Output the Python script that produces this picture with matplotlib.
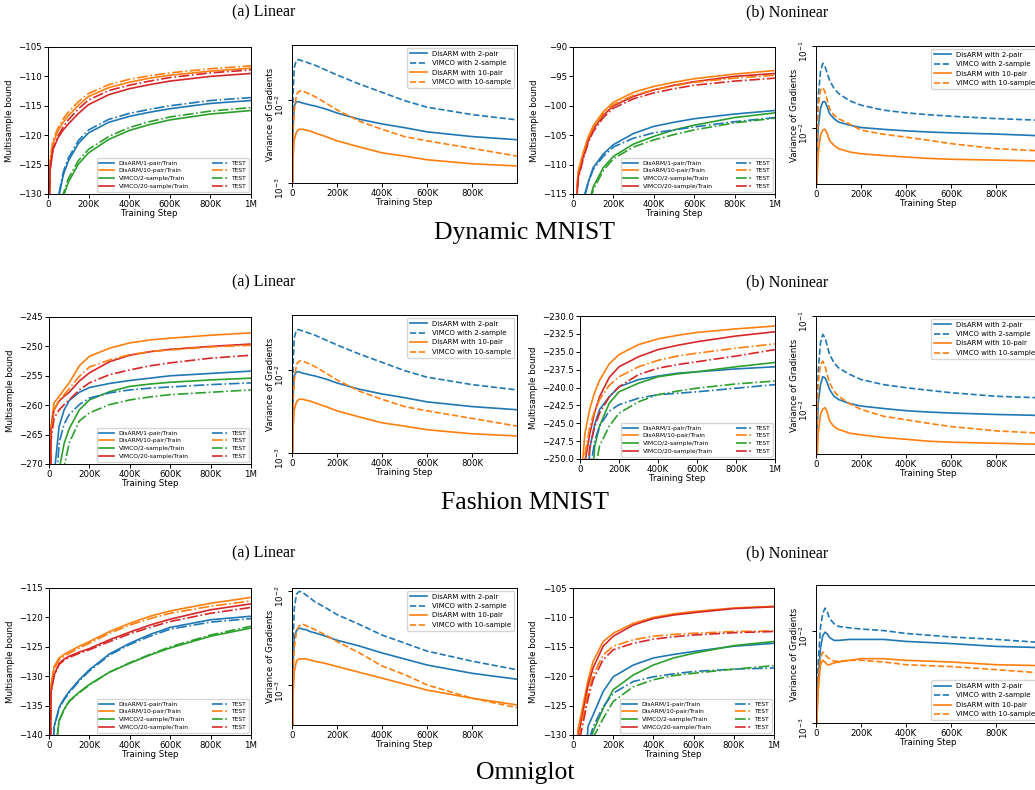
import numpy as np
import matplotlib
matplotlib.use('Agg')
import matplotlib.pyplot as plt
from matplotlib.ticker import NullLocator

W, H = 1035, 790

STEPS_BOUND = [0, 10, 25, 50, 75, 100, 150, 200, 300, 400, 500, 600, 800, 1000]
STEPS_VAR = [0, 5, 10, 20, 30, 40, 50, 60, 80, 100, 150, 200, 300, 400, 500, 600, 800, 1000]

BOUND_LABELS = ['DisARM/1-pair/Train', 'DisARM/10-pair/Train',
                'VIMCO/2-sample/Train', 'VIMCO/20-sample/Train']
VAR_LABELS = ['DisARM with 2-pair', 'VIMCO with 2-sample',
              'DisARM with 10-pair', 'VIMCO with 10-sample']

# ---- Dynamic MNIST ----
# order: DisARM 1-pair, DisARM 10-pair, VIMCO 2-sample, VIMCO 20-sample
DM_LIN_TRAIN = [
    [-175, -160, -145, -131.0, -126.8, -124.4, -121.4, -119.6, -117.8, -116.8, -116.1, -115.5, -114.6, -114.1],
    [-150, -124.5, -121.3, -119.2, -117.8, -116.7, -114.9, -113.4, -111.9, -111.0, -110.3, -109.8, -109.1, -108.6],
    [-200, -185, -165, -145, -130.5, -128.0, -124.9, -123.0, -120.7, -119.2, -118.2, -117.4, -116.4, -115.8],
    [-150, -126.0, -122.4, -120.4, -119.1, -118.1, -116.3, -114.8, -113.1, -112.1, -111.4, -110.8, -110.0, -109.5],
]
DM_LIN_TEST = [
    [-175, -160, -145, -130.6, -126.3, -123.9, -120.9, -119.1, -117.3, -116.3, -115.6, -115.0, -114.1, -113.6],
    [-150, -124.0, -120.8, -118.7, -117.2, -116.1, -114.3, -112.9, -111.4, -110.5, -109.9, -109.4, -108.7, -108.2],
    [-200, -185, -165, -145, -130.0, -127.4, -124.3, -122.4, -120.2, -118.7, -117.7, -116.9, -115.9, -115.3],
    [-150, -125.8, -122.2, -120.1, -118.6, -117.4, -115.5, -114.0, -112.4, -111.5, -110.8, -110.2, -109.4, -108.9],
]
DM_NONLIN_TRAIN = [
    [-160, -150, -135, -116.0, -113.0, -110.5, -108.2, -106.6, -104.7, -103.5, -102.8, -102.2, -101.4, -100.8],
    [-150, -120.0, -111.2, -108.0, -105.3, -103.4, -101.0, -99.4, -97.7, -96.7, -96.0, -95.4, -94.6, -94.0],
    [-200, -180, -160, -135, -117.0, -113.8, -110.5, -108.6, -106.5, -105.2, -104.1, -103.3, -102.0, -101.2],
    [-150, -121.0, -112.2, -108.8, -106.0, -104.0, -101.6, -100.0, -98.4, -97.3, -96.5, -95.9, -95.0, -94.5],
]
DM_NONLIN_TEST = [
    [-160, -150, -135, -116.5, -113.2, -110.8, -108.6, -107.0, -105.5, -104.6, -104.1, -103.6, -102.7, -102.0],
    [-150, -120.5, -111.6, -108.3, -105.6, -103.7, -101.3, -99.8, -98.2, -97.3, -96.6, -96.0, -95.3, -94.8],
    [-200, -180, -160, -135, -117.5, -114.3, -111.0, -109.0, -107.0, -105.8, -104.9, -104.1, -102.9, -102.1],
    [-150, -121.5, -112.6, -109.1, -106.3, -104.4, -102.0, -100.4, -98.8, -97.8, -97.1, -96.5, -95.8, -95.3],
]
# order: DisARM 2-pair, VIMCO 2-sample, DisARM 10-pair, VIMCO 10-sample
DM_LIN_VAR = [
    [3e-4, 0.005, 0.0085, 0.0094, 0.0094, 0.0092, 0.0090, 0.0089, 0.0086, 0.0084, 0.0077, 0.0069, 0.0058, 0.0051, 0.0046, 0.0041, 0.0036, 0.0033],
    [3e-4, 0.012, 0.024, 0.030, 0.0300, 0.0294, 0.0288, 0.0282, 0.0270, 0.0259, 0.0226, 0.0197, 0.0153, 0.0122, 0.0097, 0.0081, 0.0066, 0.0057],
    [3e-4, 0.002, 0.0033, 0.0041, 0.0044, 0.0044, 0.0044, 0.0043, 0.0042, 0.0040, 0.0036, 0.0032, 0.0027, 0.0023, 0.0021, 0.0019, 0.0017, 0.0016],
    [3e-4, 0.004, 0.0075, 0.0115, 0.0125, 0.0127, 0.0125, 0.0122, 0.0116, 0.0109, 0.0091, 0.0075, 0.0055, 0.0044, 0.0036, 0.0032, 0.0026, 0.0021],
]
DM_NONLIN_VAR = [
    [3e-4, 0.005, 0.0104, 0.0174, 0.0210, 0.0210, 0.0182, 0.0151, 0.0131, 0.0119, 0.0109, 0.0102, 0.0097, 0.0093, 0.0090, 0.0088, 0.0085, 0.0081],
    [3e-4, 0.008, 0.0241, 0.0487, 0.0615, 0.0560, 0.0464, 0.0385, 0.0305, 0.0265, 0.0215, 0.0191, 0.0166, 0.0154, 0.0146, 0.0140, 0.0131, 0.0125],
    [3e-4, 0.0025, 0.0049, 0.0082, 0.0095, 0.0097, 0.0086, 0.0071, 0.0062, 0.00565, 0.00514, 0.0049, 0.00466, 0.00447, 0.0043, 0.0042, 0.0041, 0.0040],
    [3e-4, 0.007, 0.0182, 0.0290, 0.0313, 0.0277, 0.0219, 0.0174, 0.0144, 0.0131, 0.0112, 0.0095, 0.00845, 0.0078, 0.00714, 0.0065, 0.00565, 0.0053],
]

# ---- Fashion MNIST ----
FM_LIN_TRAIN = [
    [-320, -300, -272, -263.6, -260.8, -259.2, -257.8, -257.0, -256.3, -255.8, -255.4, -255.0, -254.6, -254.2],
    [-300, -263.6, -259.6, -258.5, -257.3, -256.2, -253.3, -251.7, -250.3, -249.4, -248.9, -248.6, -248.1, -247.7],
    [-330, -310, -290, -271, -266.5, -264.0, -260.8, -259.1, -257.7, -256.8, -256.4, -256.1, -255.7, -255.4],
    [-300, -264.0, -260.8, -259.3, -258.5, -257.8, -255.9, -254.5, -252.6, -251.5, -250.9, -250.5, -250.0, -249.6],
]
FM_LIN_TEST = [
    [-320, -300, -280, -266.4, -263.2, -261.6, -259.9, -258.8, -257.9, -257.4, -257.1, -256.9, -256.5, -256.2],
    [-300, -264.5, -260.8, -259.1, -258.2, -257.2, -255.1, -253.5, -252.3, -251.4, -250.9, -250.6, -250.1, -249.8],
    [-330, -310, -290, -280, -270.5, -266.4, -262.7, -261.3, -259.9, -259.1, -258.6, -258.2, -257.8, -257.4],
    [-300, -266.0, -262.2, -260.8, -259.9, -259.1, -257.4, -256.2, -254.8, -254.0, -253.3, -252.8, -252.0, -251.5],
]
FM_NONLIN_TRAIN = [
    [-300, -280, -265, -248.5, -245.2, -243.1, -241.3, -239.9, -238.9, -238.4, -238.0, -237.8, -237.4, -237.1],
    [-300, -251.5, -246.5, -243.0, -240.7, -239.0, -236.7, -235.4, -234.0, -233.2, -232.7, -232.3, -231.8, -231.4],
    [-300, -290, -275, -260, -248.3, -245.4, -242.2, -240.6, -239.4, -238.5, -238.1, -237.8, -237.1, -236.5],
    [-300, -265, -250.5, -246.5, -243.5, -241.3, -238.6, -237.1, -235.7, -234.7, -234.1, -233.6, -232.8, -232.2],
]
FM_NONLIN_TEST = [
    [-300, -280, -265, -252.0, -247.5, -245.4, -243.3, -242.4, -241.5, -241.0, -240.8, -240.6, -240.1, -239.6],
    [-300, -262, -249.5, -245.5, -243.3, -241.7, -239.7, -238.5, -237.1, -236.2, -235.6, -235.2, -234.5, -233.9],
    [-300, -290, -280, -270, -252.0, -248.2, -245.4, -243.6, -242.0, -241.0, -240.5, -240.1, -239.5, -239.1],
    [-300, -270, -255, -248.5, -245.5, -243.6, -241.3, -239.9, -238.2, -237.3, -236.8, -236.4, -235.6, -234.7],
]
FM_LIN_VAR = DM_LIN_VAR
FM_NONLIN_VAR = [
    [3e-4, 0.005, 0.0105, 0.0169, 0.0207, 0.0202, 0.0177, 0.0149, 0.0125, 0.0115, 0.01035, 0.0097, 0.0091, 0.0086, 0.0083, 0.0081, 0.0078, 0.0076],
    [3e-4, 0.009, 0.025, 0.050, 0.062, 0.057, 0.046, 0.037, 0.0298, 0.0261, 0.022, 0.0193, 0.0169, 0.0156, 0.0146, 0.0137, 0.0125, 0.0120],
    [3e-4, 0.0025, 0.0048, 0.0078, 0.0090, 0.0093, 0.0083, 0.0066, 0.0057, 0.0053, 0.0048, 0.0046, 0.0043, 0.0041, 0.0039, 0.0038, 0.0037, 0.0036],
    [3e-4, 0.007, 0.0177, 0.0285, 0.0310, 0.0273, 0.0220, 0.0177, 0.0143, 0.0125, 0.0103, 0.0089, 0.00745, 0.0068, 0.0062, 0.0057, 0.0051, 0.0048],
]

# ---- Omniglot ----
OM_LIN_TRAIN = [
    [-170, -150, -138.6, -135.3, -133.8, -132.6, -130.6, -128.9, -126.2, -124.4, -122.9, -121.7, -120.4, -119.8],
    [-170, -131.5, -128.4, -126.9, -126.3, -125.8, -124.9, -124.1, -122.4, -121.0, -119.8, -118.9, -117.6, -116.6],
    [-180, -165, -145, -137.5, -135.6, -134.2, -132.7, -131.4, -129.3, -127.8, -126.4, -125.2, -123.2, -121.8],
    [-170, -132.6, -129.8, -127.8, -127.1, -126.6, -125.9, -125.3, -123.8, -122.5, -121.3, -120.3, -118.7, -117.7],
]
OM_LIN_TEST = [
    [-170, -150, -138.8, -135.5, -134.0, -132.8, -130.8, -129.1, -126.4, -124.6, -123.2, -122.0, -120.8, -120.2],
    [-170, -131.8, -128.7, -127.2, -126.6, -126.1, -125.2, -124.4, -122.7, -121.3, -120.2, -119.3, -118.1, -117.2],
    [-180, -165, -145, -137.6, -135.7, -134.3, -132.8, -131.5, -129.3, -127.7, -126.3, -125.0, -123.0, -121.5],
    [-170, -132.8, -130.0, -128.0, -127.3, -126.8, -126.1, -125.5, -124.1, -122.8, -121.7, -120.7, -119.3, -118.3],
]
OM_NONLIN_TRAIN = [
    [-200, -180, -160, -140, -128.5, -126.6, -122.6, -120.1, -118.1, -116.9, -116.3, -115.8, -114.9, -114.4],
    [-200, -150, -129.0, -124.9, -120.6, -117.5, -114.1, -112.7, -111.0, -110.0, -109.4, -109.0, -108.4, -108.1],
    [-200, -180, -160, -145, -133.0, -129.4, -125.5, -122.3, -119.8, -118.1, -116.9, -116.1, -114.8, -114.1],
    [-200, -150, -130.5, -126.0, -121.6, -118.6, -114.9, -113.2, -111.3, -110.2, -109.6, -109.2, -108.5, -108.2],
]
OM_NONLIN_TEST = [
    [-200, -180, -160, -145, -131.5, -128.6, -125.2, -122.9, -120.9, -120.1, -119.6, -119.2, -118.8, -118.6],
    [-200, -150, -131.0, -127.0, -122.9, -119.8, -116.4, -114.9, -113.8, -113.2, -112.9, -112.7, -112.4, -112.3],
    [-200, -180, -160, -150, -138.0, -130.5, -127.2, -124.3, -121.8, -120.6, -119.9, -119.5, -118.8, -118.2],
    [-200, -150, -132.0, -128.0, -123.8, -120.6, -117.2, -115.5, -114.4, -113.7, -113.3, -113.0, -112.6, -112.4],
]
OM_LIN_VAR = [
    [1e-4, 0.0018, 0.0032, 0.0038, 0.0040, 0.0040, 0.0039, 0.0039, 0.0037, 0.0036, 0.0033, 0.0030, 0.0026, 0.0022, 0.0019, 0.00164, 0.00134, 0.00116],
    [1e-4, 0.003, 0.0065, 0.0092, 0.0098, 0.0098, 0.0095, 0.0091, 0.0084, 0.0077, 0.0066, 0.0056, 0.0044, 0.0034, 0.0028, 0.0023, 0.0018, 0.00146],
    [1e-4, 0.0008, 0.0014, 0.0018, 0.0019, 0.0019, 0.0019, 0.0019, 0.00185, 0.0018, 0.0017, 0.00158, 0.00137, 0.00119, 0.00103, 0.00089, 0.00073, 0.00062],
    [1e-4, 0.0012, 0.0025, 0.0037, 0.0042, 0.0044, 0.0044, 0.0043, 0.0041, 0.0039, 0.0034, 0.0029, 0.0022, 0.0016, 0.0013, 0.00101, 0.00073, 0.00058],
]
OM_NONLIN_VAR = [
    [3e-4, 0.0015, 0.0030, 0.0065, 0.0089, 0.0097, 0.0093, 0.0085, 0.0079, 0.0079, 0.0081, 0.0081, 0.0081, 0.0077, 0.0075, 0.0073, 0.0068, 0.0066],
    [3e-4, 0.0020, 0.0046, 0.0110, 0.0155, 0.0177, 0.0162, 0.0137, 0.0120, 0.0112, 0.0108, 0.0105, 0.0101, 0.0094, 0.0090, 0.0086, 0.0081, 0.0075],
    [3e-4, 0.0012, 0.0023, 0.0043, 0.0048, 0.0046, 0.0043, 0.0043, 0.0045, 0.0046, 0.0048, 0.0050, 0.0050, 0.0048, 0.0047, 0.0046, 0.0043, 0.0042],
    [3e-4, 0.0015, 0.0030, 0.0051, 0.0059, 0.0056, 0.0052, 0.0050, 0.0047, 0.0047, 0.0048, 0.0048, 0.0046, 0.0043, 0.0042, 0.0041, 0.0038, 0.0035],
]

COLORS = ['#1f77b4', '#ff7f0e', '#2ca02c', '#d62728']
SERIF = ['Liberation Serif', 'DejaVu Serif']
TICK_FS = 6.2
LABEL_FS = 6.2


def rect(x0, y0, x1, y1):
    """Pixel box -> figure fraction [left, bottom, width, height]."""
    return [x0 / W, 1 - y1 / H, (x1 - x0) / W, (y1 - y0) / H]


def style_axes(ax, ylabel, ylabel_px):
    ax.tick_params(labelsize=TICK_FS, length=3, width=0.7, pad=1.5)
    for s in ax.spines.values():
        s.set_linewidth(0.7)
    ax.set_xlabel('Training Step', fontsize=LABEL_FS, labelpad=0)
    ax.set_ylabel(ylabel, fontsize=LABEL_FS)
    # place the y label a fixed number of pixels left of the axis
    width_px = ax.get_position().width * W
    ax.yaxis.set_label_coords(-ylabel_px / width_px, 0.5)


def bound_panel(ax, train, test, ylim, yticks, ylabel_px):
    x = np.array(STEPS_BOUND) * 1000
    handles = []
    for i in range(4):
        h, = ax.plot(x, train[i], color=COLORS[i], lw=1.2, label=BOUND_LABELS[i])
        handles.append(h)
    for i in range(4):
        h, = ax.plot(x, test[i], color=COLORS[i], lw=1.2, ls='-.', label='TEST')
        handles.append(h)
    ax.set_xlim(0, 1e6)
    ax.set_ylim(*ylim)
    ax.set_yticks(yticks)
    ax.set_xticks([0, 2e5, 4e5, 6e5, 8e5, 1e6])
    ax.set_xticklabels(['0', '200K', '400K', '600K', '800K', '1M'])
    style_axes(ax, 'Multisample bound', ylabel_px)
    ax.legend(handles=handles, ncol=2, loc='lower right', fontsize=4.3,
              columnspacing=4.0, handlelength=2.4, borderaxespad=0.4,
              labelspacing=0.45)


def var_panel(ax, curves, ylim, legend_loc):
    x = np.array(STEPS_VAR) * 1000
    styles = [(COLORS[0], '-'), (COLORS[0], '--'), (COLORS[1], '-'), (COLORS[1], '--')]
    for vals, (c, ls), lab in zip(curves, styles, VAR_LABELS):
        ax.plot(x, vals, color=c, ls=ls, lw=1.2, label=lab)
    ax.set_yscale('log')
    ax.set_xlim(0, 1e6)
    ax.set_ylim(*ylim)
    ax.yaxis.set_minor_locator(NullLocator())
    ax.set_xticks([0, 2e5, 4e5, 6e5, 8e5])
    ax.set_xticklabels(['0', '200K', '400K', '600K', '800K'])
    style_axes(ax, 'Variance of Gradients', 17)
    ax.tick_params(axis='y', labelrotation=90)
    ax.legend(loc=legend_loc, fontsize=5.0, handlelength=2.4, borderaxespad=0.4)


fig = plt.figure(figsize=(W / 100, H / 100), dpi=100)

rows = [
    dict(name='Dynamic MNIST', ty=12, ny=233,
         lin=(DM_LIN_TRAIN, DM_LIN_TEST, (-130, -105), np.arange(-130, -104, 5), 34),
         nonlin=(DM_NONLIN_TRAIN, DM_NONLIN_TEST, (-115, -90), np.arange(-115, -89, 5), 34),
         linvar=(DM_LIN_VAR, (1e-3, 0.045), 'upper right'),
         nonlinvar=(DM_NONLIN_VAR, (0.0021, 0.1), 'upper right'),
         boxes=[(48, 47, 251, 194), (292, 45, 517, 183), (573, 47, 775, 194), (816, 46, 1041, 184)]),
    dict(name='Fashion MNIST', ty=282, ny=503,
         lin=(FM_LIN_TRAIN, FM_LIN_TEST, (-270, -245), np.arange(-270, -244, 5), 34),
         nonlin=(FM_NONLIN_TRAIN, FM_NONLIN_TEST, (-250, -230), np.arange(-250, -229, 2.5), 42),
         linvar=(FM_LIN_VAR, (1e-3, 0.045), 'upper right'),
         nonlinvar=(FM_NONLIN_VAR, (0.0028, 0.1), 'upper right'),
         boxes=[(49, 317, 251, 464), (292, 315, 517, 453), (580, 316, 775, 459), (816, 316, 1041, 454)]),
    dict(name='Omniglot', ty=553, ny=773,
         lin=(OM_LIN_TRAIN, OM_LIN_TEST, (-140, -115), np.arange(-140, -114, 5), 34),
         nonlin=(OM_NONLIN_TRAIN, OM_NONLIN_TEST, (-130, -105), np.arange(-130, -104, 5), 35),
         linvar=(OM_LIN_VAR, (0.00038, 0.0107), 'upper right'),
         nonlinvar=(OM_NONLIN_VAR, (1e-3, 0.0316), 'lower right'),
         boxes=[(49, 588, 251, 735), (292, 588, 517, 725), (573, 588, 774, 735), (816, 585, 1041, 723)]),
]

for row in rows:
    b = row['boxes']
    ax = fig.add_axes(rect(*b[0]))
    bound_panel(ax, *row['lin'])
    ax = fig.add_axes(rect(*b[1]))
    var_panel(ax, *row['linvar'])
    ax = fig.add_axes(rect(*b[2]))
    bound_panel(ax, *row['nonlin'])
    ax = fig.add_axes(rect(*b[3]))
    var_panel(ax, *row['nonlinvar'])

    fig.text(264 / W, 1 - row['ty'] / H, '(a) Linear', ha='center', va='center',
             family=SERIF, fontsize=11.5)
    fig.text(787 / W, 1 - row['ty'] / H, '(b) Noninear', ha='center', va='center',
             family=SERIF, fontsize=11.5)
    fig.text(525 / W, 1 - row['ny'] / H, row['name'], ha='center', va='center',
             family=SERIF, fontsize=18.5)

fig.savefig('out.png', dpi=100)
